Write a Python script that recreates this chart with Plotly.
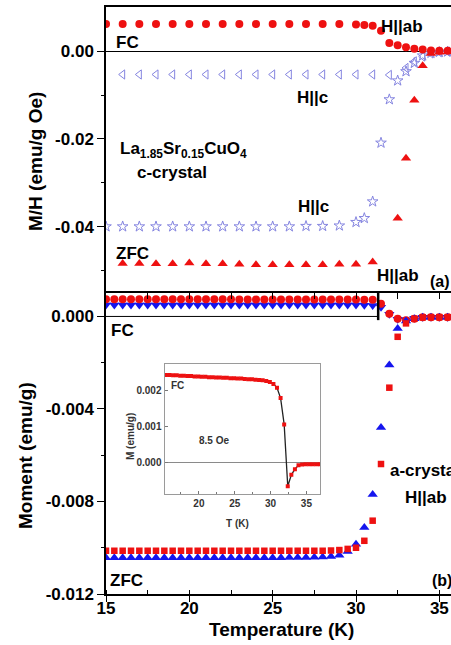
import plotly.graph_objects as go

# ---------------- DATA ----------------
# Panel (a): c-crystal, M/H (emu/g Oe)
a_fc_ab_T = [15, 16, 17, 18, 19, 20, 21, 22, 23, 24, 25, 26, 27, 28, 29, 30, 30.5, 31,
             31.5, 32, 32.5, 33, 33.5, 34, 34.5, 35, 35.5]
a_fc_ab_M = [0.0062, 0.0062, 0.0062, 0.0062, 0.0062, 0.0062, 0.0062, 0.0062, 0.0062, 0.0062,
             0.0062, 0.0062, 0.0062, 0.0062, 0.0062, 0.0061, 0.0060, 0.0058,
             0.0047, 0.0019, 0.0014, 0.0009, 0.0006, 0.0004, 0.0002, 0.0001, 0.0001]

a_fc_c_T = [16, 17, 18, 19, 20, 21, 22, 23, 24, 25, 26, 27, 28, 29, 30, 31, 32,
            33, 33.5, 34, 34.5, 35, 35.5]
a_fc_c_M = [-0.0053, -0.0053, -0.0053, -0.0053, -0.0053, -0.0053, -0.0053, -0.0053, -0.0053,
            -0.0053, -0.0053, -0.0053, -0.0053, -0.0053, -0.0053, -0.0053, -0.0054,
            -0.0038, -0.0023, -0.0012, -0.0005, -0.0002, -0.0001]

a_zfc_c_T = [15, 16, 17, 18, 19, 20, 21, 22, 23, 24, 25, 26, 27, 28, 29, 30, 30.5, 31,
             31.5, 32, 32.5, 33, 33.5, 34, 34.5, 35, 35.5]
a_zfc_c_M = [-0.0400, -0.0400, -0.0400, -0.0400, -0.0400, -0.0400, -0.0400, -0.0400, -0.0400,
             -0.0400, -0.0400, -0.0400, -0.0399, -0.0399, -0.0398, -0.0390, -0.0381, -0.0343,
             -0.0209, -0.0110, -0.0067, -0.0046, -0.0027, -0.0010, -0.0004, -0.0002, -0.0001]

a_zfc_ab_T = [16, 17, 18, 19, 20, 21, 22, 23, 24, 25, 26, 27, 28, 29, 30, 31,
              32.5, 33, 33.5, 34, 34.5, 35, 35.5]
a_zfc_ab_M = [-0.0484, -0.0484, -0.0485, -0.0485, -0.0483, -0.0485, -0.0485, -0.0486, -0.0487,
              -0.0487, -0.0487, -0.0487, -0.0487, -0.0486, -0.0486, -0.0481,
              -0.0381, -0.0244, -0.0112, -0.0033, -0.0005, -0.0002, -0.0001]

# Panel (b): a-crystal, Moment (emu/g)
b_T = [15, 15.5, 16, 16.5, 17, 17.5, 18, 18.5, 19, 19.5, 20, 20.5, 21, 21.5, 22, 22.5,
       23, 23.5, 24, 24.5, 25, 25.5, 26, 26.5, 27, 27.5, 28, 28.5, 29, 29.5, 30, 30.5,
       31, 31.5, 32, 32.5, 33, 33.5, 34, 34.5, 35, 35.5]
b_fc_red = [0.00074, 0.00074, 0.00074, 0.00074, 0.00074, 0.00074, 0.00074, 0.00074,
            0.00074, 0.00074, 0.00074, 0.00074, 0.00074, 0.00074, 0.00074, 0.00074,
            0.00073, 0.00073, 0.00073, 0.00073, 0.00073, 0.00073, 0.00073, 0.00073,
            0.00073, 0.00073, 0.00073, 0.00073, 0.00073, 0.00073, 0.00073, 0.00072,
            0.00072, 0.00055, 0.00012, -0.00010, -0.00016, -0.00010, -0.00004,
            -0.00003, -0.00003, -0.00003]
b_fc_blue = [0.00049, 0.00049, 0.00049, 0.00049, 0.00049, 0.00049, 0.00049, 0.00049,
             0.00049, 0.00049, 0.00049, 0.00049, 0.00049, 0.00049, 0.00049, 0.00049,
             0.00049, 0.00049, 0.00049, 0.00049, 0.00049, 0.00049, 0.00049, 0.00049,
             0.00049, 0.00049, 0.00049, 0.00049, 0.00049, 0.00049, 0.00049, 0.00048,
             0.00047, 0.00040, 0.00010, -0.00012, -0.00014, -0.00008, -0.00004,
             -0.00003, -0.00003, -0.00003]
b_zfc_red = [-0.01013, -0.01013, -0.01013, -0.01013, -0.01013, -0.01013, -0.01013, -0.01013,
             -0.01013, -0.01013, -0.01013, -0.01013, -0.01013, -0.01013, -0.01013, -0.01013,
             -0.01013, -0.01013, -0.01013, -0.01013, -0.01013, -0.01013, -0.01013, -0.01013,
             -0.01013, -0.01013, -0.01013, -0.01012, -0.01010, -0.01005, -0.01000, -0.00970,
             -0.00883, -0.00638, -0.00308, -0.00088, -0.00030, -0.00010, -0.00004,
             -0.00003, -0.00003, -0.00003]
b_zfc_blue = [-0.01043, -0.01043, -0.01043, -0.01043, -0.01043, -0.01043, -0.01043, -0.01043,
              -0.01043, -0.01043, -0.01043, -0.01043, -0.01043, -0.01043, -0.01043, -0.01043,
              -0.01043, -0.01043, -0.01043, -0.01043, -0.01043, -0.01043, -0.01042, -0.01042,
              -0.01042, -0.01041, -0.01040, -0.01038, -0.01033, -0.01016, -0.00985, -0.00912,
              -0.00770, -0.00480, -0.00210, -0.00052, -0.00020, -0.00010, -0.00004,
              -0.00003, -0.00003, -0.00003]

# Inset: FC at 8.5 Oe
in_T = [15.4, 15.9, 16.4, 16.9, 17.4, 17.9, 18.4, 18.9, 19.4, 19.9, 20.4, 20.9, 21.4, 21.9,
        22.4, 22.9, 23.4, 23.9, 24.4, 24.9, 25.4, 25.9, 26.4, 26.9, 27.4, 27.9, 28.4, 28.9,
        29.4, 29.9, 30.4, 30.9, 31.4, 31.9, 32.4, 32.9, 33.4, 33.9, 34.4, 34.9, 35.4, 35.9,
        36.4, 36.9]
in_M = [0.00245, 0.00245, 0.00244, 0.00244, 0.00243, 0.00243, 0.00242, 0.00242, 0.00241,
        0.00241, 0.00240, 0.00240, 0.00239, 0.00239, 0.00238, 0.00238, 0.00237, 0.00237,
        0.00236, 0.00236, 0.00235, 0.00235, 0.00234, 0.00233, 0.00233, 0.00232, 0.00231,
        0.00230, 0.00228, 0.00225, 0.00220, 0.00209, 0.00180, 0.00106, -0.00068, -0.00036,
        -0.00020, -0.00009, -0.00007, -0.00006, -0.00006, -0.00006, -0.00006, -0.00006]

# ---------------- STYLE ----------------
RED = "#ee1111"
BLUE = "#1515ee"
VIOLET = "#8585e0"
FONT = "Liberation Sans, Arial, sans-serif"

W, H = 451, 645
ML, MR, MT, MB = 106, 0, 7, 51
SPLIT = 291


def px(x):
    return (x - ML) / (W - ML - MR)


def py(y):
    return (H - MB - y) / (H - MT - MB)


fig = go.Figure()

# Panel (a)
fig.add_trace(go.Scatter(x=a_fc_c_T, y=a_fc_c_M, mode="markers", xaxis="x2", yaxis="y2",
                         marker=dict(symbol="triangle-left-open", size=8, color=VIOLET,
                                     line=dict(width=1, color=VIOLET))))
fig.add_trace(go.Scatter(x=a_zfc_c_T, y=a_zfc_c_M, mode="markers", xaxis="x2", yaxis="y2",
                         marker=dict(symbol="star-open", size=8, color=VIOLET,
                                     line=dict(width=1, color=VIOLET))))
fig.add_trace(go.Scatter(x=a_zfc_ab_T, y=a_zfc_ab_M, mode="markers", xaxis="x2", yaxis="y2",
                         marker=dict(symbol="triangle-up", size=9, color=RED, line=dict(width=0))))
fig.add_trace(go.Scatter(x=a_fc_ab_T, y=a_fc_ab_M, mode="markers", xaxis="x2", yaxis="y2",
                         marker=dict(symbol="circle", size=8, color=RED, line=dict(width=0))))

# Panel (b)
fig.add_trace(go.Scatter(x=b_T, y=b_fc_blue, mode="markers", xaxis="x", yaxis="y",
                         marker=dict(symbol="triangle-down", size=9, color=BLUE, line=dict(width=0))))
fig.add_trace(go.Scatter(x=b_T, y=b_fc_red, mode="markers", xaxis="x", yaxis="y",
                         marker=dict(symbol="circle", size=8, color=RED, line=dict(width=0))))
fig.add_trace(go.Scatter(x=b_T, y=b_zfc_blue, mode="markers", xaxis="x", yaxis="y",
                         marker=dict(symbol="triangle-up", size=9, color=BLUE, line=dict(width=0))))
fig.add_trace(go.Scatter(x=b_T, y=b_zfc_red, mode="markers", xaxis="x", yaxis="y",
                         marker=dict(symbol="square", size=6.5, color=RED, line=dict(width=0))))

# Inset
fig.add_trace(go.Scatter(x=in_T, y=in_M, mode="lines+markers", xaxis="x3", yaxis="y3",
                         line=dict(color="#222222", width=1.3),
                         marker=dict(symbol="square", size=4, color=RED, line=dict(width=0))))

tickfont = dict(family=FONT, size=17, color="black", weight="bold")
inset_font = dict(family=FONT, size=10, color="#333333", weight="bold")

fig.update_layout(
    width=W, height=H, autosize=False,
    margin=dict(l=ML, r=MR, t=MT, b=MB, pad=0),
    paper_bgcolor="white", plot_bgcolor="white",
    showlegend=False,
    xaxis=dict(domain=[0, 1], anchor="y", range=[15, 35.7], showline=True, linecolor="black",
               linewidth=1.5, ticks="outside", ticklen=6, tickwidth=1.3, tickcolor="black",
               tick0=15, dtick=5, tickfont=tickfont, showgrid=False, zeroline=False,
               ticklabelstandoff=-8,
               minor=dict(dtick=2.5, tick0=15, ticks="inside", ticklen=4, tickwidth=1,
                          tickcolor="black", showgrid=False)),
    yaxis=dict(domain=[0, py(SPLIT)], anchor="x", range=[-0.012, 0.0011], showline=True,
               linecolor="black", linewidth=1.5, ticks="outside", ticklen=7, tickwidth=1.3,
               tickcolor="black", tickmode="array",
               tickvals=[-0.012, -0.008, -0.004, 0.0],
               ticktext=["-0.012", "-0.008", "-0.004", "0.000"],
               tickfont=tickfont, showgrid=False, zeroline=False,
               minor=dict(tickmode="array", tickvals=[-0.010, -0.006, -0.002], ticks="outside",
                          ticklen=3, tickwidth=1, tickcolor="black", showgrid=False)),
    xaxis2=dict(domain=[0, 1], anchor="y2", range=[15, 35.7], showline=True, mirror=True,
                linecolor="black", linewidth=1.5, ticks="outside", ticklen=6, tickwidth=1,
                tickcolor="black", tickmode="array",
                tickvals=[17.5, 20, 22.5, 25, 27.5, 30, 32.5, 35],
                showticklabels=False, showgrid=False, zeroline=False),
    yaxis2=dict(domain=[py(SPLIT), 1], anchor="x2", range=[-0.0547, 0.0101], showline=True,
                linecolor="black", linewidth=1.5, ticks="outside", ticklen=7, tickwidth=1.3,
                tickcolor="black", tickmode="array",
                tickvals=[-0.04, -0.02, 0.0], ticktext=["-0.04", "-0.02", "0.00"],
                tickfont=tickfont, showgrid=False, zeroline=True, zerolinecolor="black",
                zerolinewidth=1,
                minor=dict(tickmode="array", tickvals=[-0.05, -0.03, -0.01], ticks="outside",
                           ticklen=3, tickwidth=1, tickcolor="black", showgrid=False)),
    xaxis3=dict(domain=[px(164.5), px(320)], anchor="y3", range=[15.2, 36.9], showline=True,
                mirror=True, linecolor="#9a9a9a", linewidth=1, ticks="inside", ticklen=3,
                tickcolor="#777777", tick0=20, dtick=5, tickfont=inset_font, showgrid=False,
                zeroline=False,
                minor=dict(dtick=2.5, tick0=15, ticks="inside", ticklen=2, tickcolor="#777777")),
    yaxis3=dict(domain=[py(494), py(364)], anchor="x3", range=[-0.0009, 0.00276], showline=True,
                mirror=True, linecolor="#9a9a9a", linewidth=1, ticks="inside", ticklen=3,
                tickcolor="#777777", tickmode="array", tickvals=[0.0, 0.001, 0.002],
                ticktext=["0.000", "0.001", "0.002"], tickfont=inset_font, showgrid=False,
                zeroline=True, zerolinecolor="#8a8a8a", zerolinewidth=1),
)

# Zero line and divider in panel (b)
fig.add_shape(type="line", xref="x", yref="y", x0=15, x1=31.33, y0=0, y1=0,
              line=dict(color="black", width=1))
fig.add_shape(type="line", xref="x", yref="y", x0=31.33, x1=31.33, y0=-0.00016, y1=0.0011,
              line=dict(color="black", width=2.5))


def ann(text, x, y, size=17, xanchor="center", angle=0, color="black"):
    fig.add_annotation(text=text, xref="paper", yref="paper", x=px(x), y=py(y),
                       xanchor=xanchor, yanchor="middle", showarrow=False, textangle=angle,
                       font=dict(family=FONT, size=size, color=color), borderpad=0)


# Panel (a) labels
ann("<b>H||ab</b>", 402, 26)
ann("<b>FC</b>", 127, 42.5)
ann("<b>H||c</b>", 312, 97)
ann("<b>La<sub>1.85</sub>Sr<sub>0.15</sub>CuO<sub>4</sub></b>", 119, 150, xanchor="left")
ann("<b>c-crystal</b>", 171.5, 172)
ann("<b>H||c</b>", 313.5, 206)
ann("<b>ZFC</b>", 132.5, 253)
ann("<b>H||ab</b>", 398, 275)
ann("<b>(a)</b>", 440, 281, size=16)

# Panel (b) labels
ann("<b>FC</b>", 122, 330)
ann("<b>ZFC</b>", 126, 580)
ann("<b>(b)</b>", 442, 580, size=16)
ann("<b>a-crystal</b>", 389, 470, xanchor="left")
ann("<b>H||ab</b>", 426, 497)

# Axis titles
ann("<b>M/H (emu/g Oe)</b>", 35, 162, size=19, angle=-90)
ann("<b>Moment (emu/g)</b>", 25, 456, size=19, angle=-90)
ann("<b>Temperature (K)</b>", 281.5, 629, size=19)

# Inset labels
ann("<b>FC</b>", 177, 386, size=10, color="#333333")
ann("<b>8.5 Oe</b>", 214, 440, size=10, color="#333333")
ann("<b>M (emu/g)</b>", 130, 437, size=10, angle=-90, color="#333333")
ann("<b>T (K)</b>", 237, 523, size=10, color="#333333")

fig.write_html("out.html")
